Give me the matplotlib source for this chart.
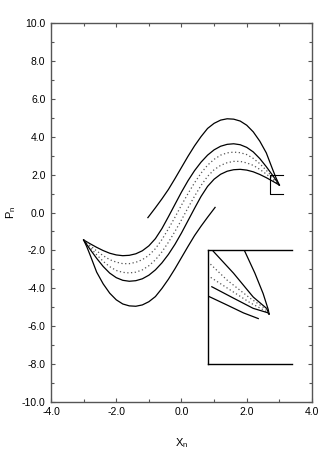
import matplotlib
matplotlib.use('Agg')
import matplotlib.pyplot as plt
from matplotlib.ticker import MultipleLocator, FormatStrFormatter

plt.rcParams['font.family'] = ['Liberation Sans', 'DejaVu Sans']
plt.rcParams['mathtext.fontset'] = 'custom'
plt.rcParams['mathtext.rm'] = 'Liberation Sans'

# x grid shared by the four inner curves
xs = [-3.0, -2.8, -2.6, -2.4, -2.2, -2.0, -1.8, -1.6, -1.4, -1.2, -1.0,
      -0.8, -0.6, -0.4, -0.2, 0.0, 0.2, 0.4, 0.6, 0.8, 1.0,
      1.2, 1.4, 1.6, 1.8, 2.0, 2.2, 2.4, 2.6, 2.8, 3.0]

curva1 = [-1.45, -1.65, -1.84, -2.01, -2.15, -2.24, -2.28, -2.26, -2.18, -2.02, -1.76,
          -1.38, -0.85, -0.22, 0.43, 1.08, 1.68, 2.21, 2.66, 3.03, 3.31,
          3.50, 3.60, 3.63, 3.58, 3.44, 3.20, 2.85, 2.42, 1.95, 1.45]
curva2 = [-1.45, -1.75, -2.03, -2.28, -2.49, -2.62, -2.70, -2.70, -2.63, -2.49, -2.26,
          -1.91, -1.43, -0.86, -0.25, 0.39, 1.00, 1.57, 2.08, 2.50, 2.81,
          3.03, 3.15, 3.19, 3.16, 3.06, 2.86, 2.58, 2.23, 1.85, 1.45]
curva3 = [-1.45, -1.85, -2.23, -2.58, -2.86, -3.06, -3.16, -3.19, -3.15, -3.03, -2.81,
          -2.50, -2.08, -1.57, -1.00, -0.39, 0.25, 0.86, 1.43, 1.91, 2.26,
          2.49, 2.63, 2.70, 2.70, 2.62, 2.49, 2.28, 2.03, 1.75, 1.45]
curva4 = [-1.45, -1.95, -2.42, -2.85, -3.20, -3.44, -3.58, -3.63, -3.60, -3.50, -3.31,
          -3.03, -2.66, -2.21, -1.68, -1.08, -0.43, 0.22, 0.85, 1.38, 1.76,
          2.02, 2.18, 2.26, 2.28, 2.24, 2.15, 2.01, 1.84, 1.65, 1.45]

# outer open curves
sup_x = [-1.03, -0.8, -0.6, -0.4, -0.2, 0.0, 0.2, 0.4, 0.6, 0.8, 1.0,
         1.2, 1.4, 1.6, 1.8, 2.0, 2.2, 2.4, 2.6, 2.8, 2.9, 3.0]
sup_y = [-0.27, 0.25, 0.72, 1.22, 1.79, 2.38, 2.97, 3.52, 4.01, 4.44, 4.71,
         4.88, 4.95, 4.93, 4.83, 4.61, 4.26, 3.77, 3.15, 2.25, 1.82, 1.45]
inf_x = [-3.0, -2.9, -2.8, -2.6, -2.4, -2.2, -2.0, -1.8, -1.6, -1.4, -1.2,
         -1.0, -0.8, -0.6, -0.4, -0.2, 0.0, 0.2, 0.4, 0.6, 0.8, 1.03]
inf_y = [-1.45, -1.82, -2.25, -3.15, -3.77, -4.26, -4.61, -4.83, -4.93, -4.95, -4.88,
         -4.71, -4.44, -4.01, -3.52, -2.97, -2.38, -1.79, -1.22, -0.72, -0.25, 0.27]

# zoomed region (small box) and where the inset is placed
zoom_x = (2.7, 3.1)
zoom_y = (1.0, 2.0)
inset_x = (0.8, 3.4)
inset_y = (-8.0, -2.0)

# curves as seen inside the inset
ins_a_x = [2.86, 2.876, 2.923, 2.962, 2.986, 2.99]
ins_a_y = [2.05, 1.99, 1.80, 1.62, 1.48, 1.44]
ins_b_x = [2.71, 2.728, 2.822, 2.915, 2.978, 2.99]
ins_b_y = [2.03, 1.99, 1.80, 1.59, 1.49, 1.44]
ins_c_x = [2.70, 2.713, 2.791, 2.90, 2.978, 2.99]
ins_c_y = [1.90, 1.88, 1.74, 1.58, 1.48, 1.44]
ins_d_x = [2.70, 2.80, 2.90, 2.97, 2.99]
ins_d_y = [1.78, 1.66, 1.54, 1.47, 1.44]
ins_e_x = [2.72, 2.822, 2.915, 2.986, 2.99]
ins_e_y = [1.68, 1.58, 1.49, 1.45, 1.44]
ins_f_x = [2.70, 2.791, 2.869, 2.939]
ins_f_y = [1.60, 1.52, 1.45, 1.40]

fig = plt.figure(figsize=(3.27, 4.63), dpi=100)
ax = fig.add_axes([0.156, 0.132, 0.798, 0.818])

lw = 0.9
cor = '#555555'
ax.plot(xs, curva1, color='k', lw=lw)
ax.plot(xs, curva2, color=cor, lw=lw, ls=(0, (1, 2)))
ax.plot(xs, curva3, color=cor, lw=lw, ls=(0, (1, 2)))
ax.plot(xs, curva4, color='k', lw=lw)
ax.plot(sup_x, sup_y, color='k', lw=lw)
ax.plot(inf_x, inf_y, color='k', lw=lw)

# small box: left, top and bottom sides
ax.plot([zoom_x[1], zoom_x[0], zoom_x[0], zoom_x[1]],
        [zoom_y[1], zoom_y[1], zoom_y[0], zoom_y[0]], color='k', lw=0.8)

ax.set_xlim(-4, 4)
ax.set_ylim(-10, 10)
ax.xaxis.set_major_locator(MultipleLocator(2))
ax.xaxis.set_minor_locator(MultipleLocator(1))
ax.yaxis.set_major_locator(MultipleLocator(2))
ax.yaxis.set_minor_locator(MultipleLocator(1))
ax.xaxis.set_major_formatter(FormatStrFormatter('%.1f'))
ax.yaxis.set_major_formatter(FormatStrFormatter('%.1f'))
ax.tick_params(which='both', direction='in', top=True, right=True,
               labelsize=7.5, width=0.8, color=cor, pad=4)
ax.tick_params(which='major', length=3)
ax.tick_params(which='minor', length=2)
for s in ax.spines.values():
    s.set_color(cor)
    s.set_linewidth(1.0)

ax.set_xlabel(r'X$_{\rm n}$', fontsize=8)
ax.set_ylabel(r'P$_{\rm n}$', fontsize=8)
ax.xaxis.set_label_coords(0.5, -0.09)
ax.yaxis.set_label_coords(-0.125, 0.5)

# inset
axin = ax.inset_axes([inset_x[0], inset_y[0], inset_x[1] - inset_x[0], inset_y[1] - inset_y[0]],
                     transform=ax.transData)
axin.plot(ins_a_x, ins_a_y, color='k', lw=lw)
axin.plot(ins_b_x, ins_b_y, color='k', lw=lw)
axin.plot(ins_c_x, ins_c_y, color=cor, lw=lw, ls=(0, (1, 2)))
axin.plot(ins_d_x, ins_d_y, color=cor, lw=lw, ls=(0, (1, 2)))
axin.plot(ins_e_x, ins_e_y, color='k', lw=lw)
axin.plot(ins_f_x, ins_f_y, color='k', lw=lw)
axin.set_xlim(*zoom_x)
axin.set_ylim(*zoom_y)
axin.set_xticks([])
axin.set_yticks([])
axin.patch.set_alpha(0)
axin.spines['right'].set_visible(False)
for k in ['left', 'top', 'bottom']:
    axin.spines[k].set_color('k')
    axin.spines[k].set_linewidth(1.0)

fig.savefig('out.png', dpi=100)
